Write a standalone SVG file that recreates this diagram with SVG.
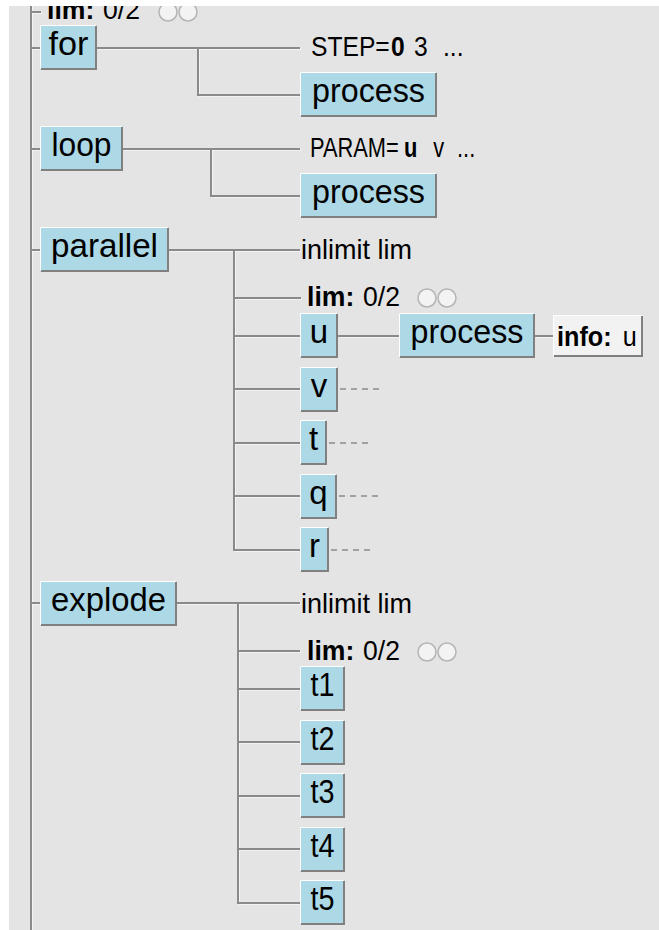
<svg xmlns="http://www.w3.org/2000/svg" xmlns:xlink="http://www.w3.org/1999/xlink" width="659" height="930" viewBox="0 0 659 930">
  <style>
    .bg { fill: #e4e4e4; }
    .wire { fill: none; stroke: #8a8a8a; stroke-width: 2; }
    .hl { fill: none; stroke: #ffffff; stroke-width: 1.2; }
    .dash { fill: none; stroke: #8a8a8a; stroke-width: 1.5; stroke-dasharray: 6 5; }
    .face { fill: #add8e6; }
    .plain { fill: #f2f2f2; }
    .lit { fill: none; stroke: #ffffff; stroke-width: 1; }
    .shade { fill: none; stroke: #808080; stroke-width: 2; }
    text { font-family: "Liberation Sans", Arial, sans-serif; fill: #000; }
    .nt { font-size: 33px; text-anchor: middle; }
    .lt { font-size: 28px; }
    .b { font-weight: bold; }
    .led { fill: #f3f3f3; stroke: #b4b4b4; stroke-width: 1.5; }
  </style>
  <defs>
    <g id="wires">
      <!-- trunk and top-level ticks -->
      <path d="M31,0V930"/>
      <path d="M31,12H41M31,48H40M31,149H40M31,250H40M31,603H40"/>
      <!-- for -->
      <path d="M97,48H300M198,48V95H300"/>
      <!-- loop -->
      <path d="M123,149H300M211,149V196H300"/>
      <!-- parallel -->
      <path d="M169,250H300M234,250V550H300M234,298H301M234,336H300M234,389H300M234,443H300M234,496H300"/>
      <path d="M338,336H399M535,336H553"/>
      <!-- explode -->
      <path d="M177,603H300M238,603V903H300M238,651H300M238,689H300M238,742H300M238,796H300M238,849H300"/>
    </g>
    <!-- limit counter: bold name, count, two status lamps (local coords, baseline at 0) -->
    <g id="limcount">
      <text class="lt b" x="0" y="0">lim:</text>
      <text class="lt" x="59" y="0">0/2</text>
    </g>
  </defs>

  <rect class="bg" x="0" y="0" width="659" height="930"/>

  <g id="connectors">
    <use xlink:href="#wires" href="#wires" class="hl" transform="translate(1,1)"/>
    <use xlink:href="#wires" href="#wires" class="wire"/>
    <path class="dash" d="M340,389h40M329,443h40M339,496h40M331,550h40"/>
  </g>

  <g id="lim-top">
    <use xlink:href="#limcount" href="#limcount" transform="translate(47,19) scale(0.95,1)"/>
    <circle class="led" cx="168" cy="12" r="9"/>
    <circle class="led" cx="188" cy="12" r="9"/>
  </g>

  <g id="for">
    <rect class="face" x="40" y="25" width="57" height="45"/>
    <path class="lit" d="M40.5,69V25.5H96"/>
    <path class="shade" d="M96,26V69H41"/>
    <text class="nt" x="68.5" y="55" textLength="40" lengthAdjust="spacingAndGlyphs">for</text>
  </g>
  <g id="for-step" transform="translate(311,56) scale(0.88,1)">
    <text class="lt" x="0" y="0">STEP=</text>
    <text class="lt b" x="91" y="0">0</text>
    <text class="lt" x="117" y="0">3</text>
    <text class="lt" x="150" y="0">...</text>
  </g>
  <g id="for-process">
    <rect class="face" x="300" y="72" width="137" height="45"/>
    <path class="lit" d="M300.5,116V72.5H436"/>
    <path class="shade" d="M436,73V116H301"/>
    <text class="nt" x="368.5" y="102" textLength="113" lengthAdjust="spacingAndGlyphs">process</text>
  </g>

  <g id="loop">
    <rect class="face" x="40" y="126" width="83" height="45"/>
    <path class="lit" d="M40.5,170V126.5H122"/>
    <path class="shade" d="M122,127V170H41"/>
    <text class="nt" x="81.5" y="156" textLength="60" lengthAdjust="spacingAndGlyphs">loop</text>
  </g>
  <g id="loop-param" transform="translate(310,157) scale(0.78,1)">
    <text class="lt" x="0" y="0">PARAM=</text>
    <text class="lt b" x="120.5" y="0">u</text>
    <text class="lt" x="158" y="0">v</text>
    <text class="lt" x="188.5" y="0">...</text>
  </g>
  <g id="loop-process">
    <rect class="face" x="300" y="173" width="137" height="45"/>
    <path class="lit" d="M300.5,217V173.5H436"/>
    <path class="shade" d="M436,174V217H301"/>
    <text class="nt" x="368.5" y="203" textLength="113" lengthAdjust="spacingAndGlyphs">process</text>
  </g>

  <g id="parallel">
    <rect class="face" x="40" y="227" width="129" height="45"/>
    <path class="lit" d="M40.5,271V227.5H168"/>
    <path class="shade" d="M168,228V271H41"/>
    <text class="nt" x="104.5" y="257" textLength="107" lengthAdjust="spacingAndGlyphs">parallel</text>
  </g>
  <g id="parallel-inlimit">
    <text class="lt" x="301" y="259" textLength="111" lengthAdjust="spacingAndGlyphs">inlimit lim</text>
  </g>
  <g id="parallel-lim">
    <use xlink:href="#limcount" href="#limcount" transform="translate(307,306) scale(0.95,1)"/>
    <circle class="led" cx="427" cy="298" r="9"/>
    <circle class="led" cx="447" cy="298" r="9"/>
  </g>
  <g id="par-u">
    <rect class="face" x="300" y="313" width="38" height="45"/>
    <path class="lit" d="M300.5,357V313.5H337"/>
    <path class="shade" d="M337,314V357H301"/>
    <text class="nt" x="319" y="343">u</text>
  </g>
  <g id="par-u-process">
    <rect class="face" x="399" y="313" width="136" height="45"/>
    <path class="lit" d="M399.5,357V313.5H534"/>
    <path class="shade" d="M534,314V357H400"/>
    <text class="nt" x="467" y="343" textLength="113" lengthAdjust="spacingAndGlyphs">process</text>
  </g>
  <g id="par-u-info">
    <rect class="plain" x="553" y="315" width="90" height="42"/>
    <path class="lit" d="M553.5,356V315.5H642"/>
    <path class="shade" d="M642,316V356H554"/>
    <g transform="translate(557,346) scale(0.9,1)">
      <text class="lt b" x="0" y="0">info:</text>
      <text class="lt" x="73" y="0">u</text>
    </g>
  </g>
  <g id="par-v">
    <rect class="face" x="300" y="367" width="38" height="45"/>
    <path class="lit" d="M300.5,411V367.5H337"/>
    <path class="shade" d="M337,368V411H301"/>
    <text class="nt" x="319" y="397">v</text>
  </g>
  <g id="par-t">
    <rect class="face" x="300" y="420" width="27" height="45"/>
    <path class="lit" d="M300.5,464V420.5H326"/>
    <path class="shade" d="M326,421V464H301"/>
    <text class="nt" x="313.5" y="450">t</text>
  </g>
  <g id="par-q">
    <rect class="face" x="300" y="474" width="37" height="45"/>
    <path class="lit" d="M300.5,518V474.5H336"/>
    <path class="shade" d="M336,475V518H301"/>
    <text class="nt" x="318.5" y="504">q</text>
  </g>
  <g id="par-r">
    <rect class="face" x="300" y="527" width="29" height="45"/>
    <path class="lit" d="M300.5,571V527.5H328"/>
    <path class="shade" d="M328,528V571H301"/>
    <text class="nt" x="314.5" y="557">r</text>
  </g>

  <g id="explode">
    <rect class="face" x="40" y="581" width="137" height="45"/>
    <path class="lit" d="M40.5,625V581.5H176"/>
    <path class="shade" d="M176,582V625H41"/>
    <text class="nt" x="108.5" y="611" textLength="115" lengthAdjust="spacingAndGlyphs">explode</text>
  </g>
  <g id="explode-inlimit">
    <text class="lt" x="301" y="613" textLength="111" lengthAdjust="spacingAndGlyphs">inlimit lim</text>
  </g>
  <g id="explode-lim">
    <use xlink:href="#limcount" href="#limcount" transform="translate(307,660) scale(0.95,1)"/>
    <circle class="led" cx="427" cy="652" r="9"/>
    <circle class="led" cx="447" cy="652" r="9"/>
  </g>
  <g id="exp-t1">
    <rect class="face" x="300" y="666" width="45" height="45"/>
    <path class="lit" d="M300.5,710V666.5H344"/>
    <path class="shade" d="M344,667V710H301"/>
    <text class="nt" x="322.5" y="696" textLength="24" lengthAdjust="spacingAndGlyphs">t1</text>
  </g>
  <g id="exp-t2">
    <rect class="face" x="300" y="720" width="45" height="45"/>
    <path class="lit" d="M300.5,764V720.5H344"/>
    <path class="shade" d="M344,721V764H301"/>
    <text class="nt" x="322.5" y="750" textLength="24" lengthAdjust="spacingAndGlyphs">t2</text>
  </g>
  <g id="exp-t3">
    <rect class="face" x="300" y="773" width="45" height="45"/>
    <path class="lit" d="M300.5,817V773.5H344"/>
    <path class="shade" d="M344,774V817H301"/>
    <text class="nt" x="322.5" y="803" textLength="24" lengthAdjust="spacingAndGlyphs">t3</text>
  </g>
  <g id="exp-t4">
    <rect class="face" x="300" y="827" width="45" height="45"/>
    <path class="lit" d="M300.5,871V827.5H344"/>
    <path class="shade" d="M344,828V871H301"/>
    <text class="nt" x="322.5" y="857" textLength="24" lengthAdjust="spacingAndGlyphs">t4</text>
  </g>
  <g id="exp-t5">
    <rect class="face" x="300" y="880" width="45" height="45"/>
    <path class="lit" d="M300.5,924V880.5H344"/>
    <path class="shade" d="M344,881V924H301"/>
    <text class="nt" x="322.5" y="910" textLength="24" lengthAdjust="spacingAndGlyphs">t5</text>
  </g>

  <!-- window margins -->
  <rect x="0" y="0" width="659" height="6" fill="#ffffff"/>
  <rect x="0" y="0" width="9" height="930" fill="#ffffff"/>
</svg>
